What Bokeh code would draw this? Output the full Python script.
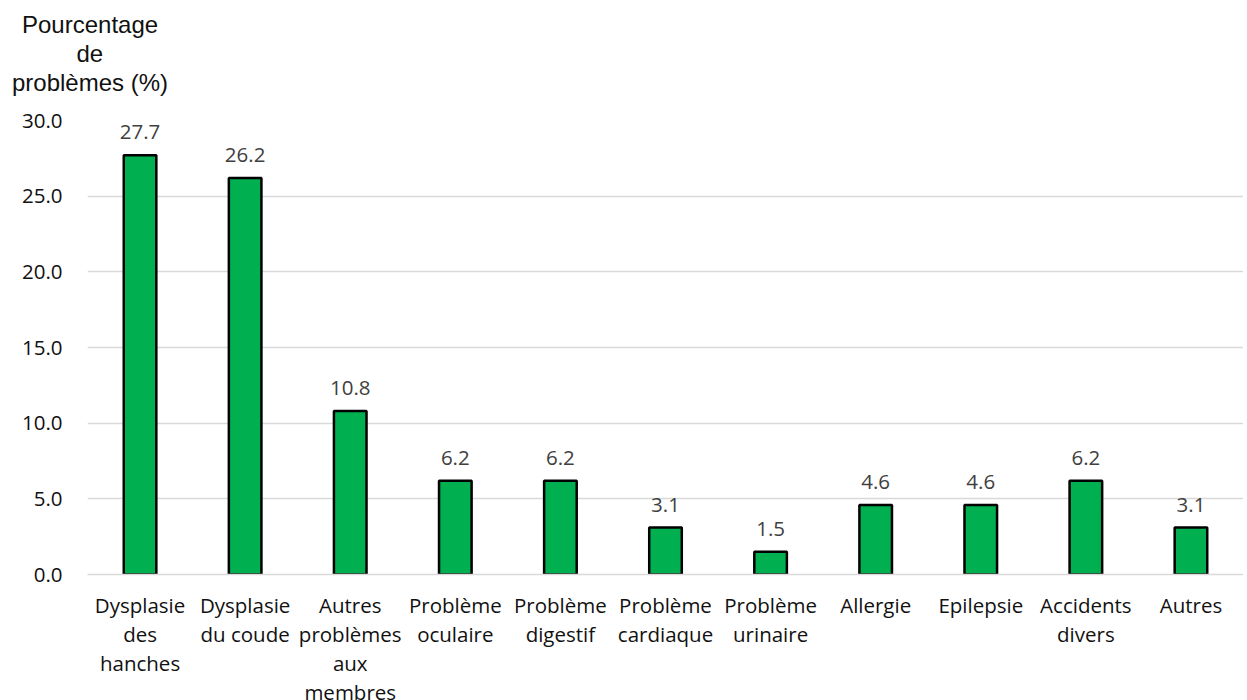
from bokeh.plotting import figure
from bokeh.models import FactorRange, Range1d, ColumnDataSource, Title, LabelSet, FixedTicker, PrintfTickFormatter
from bokeh.core.properties import value
from bokeh.embed import file_html
from bokeh.resources import INLINE

categories = ["Dysplasie\ndes\nhanches", "Dysplasie\ndu coude", "Autres\nproblèmes\naux\nmembres",
              "Problème\noculaire", "Problème\ndigestif", "Problème\ncardiaque", "Problème\nurinaire",
              "Allergie", "Epilepsie", "Accidents\ndivers", "Autres"]
values = [27.7, 26.2, 10.8, 6.2, 6.2, 3.1, 1.5, 4.6, 4.6, 6.2, 3.1]
y_ticks = [0, 5, 10, 15, 20, 25, 30]
y_title_lines = ["Pourcentage", "de", "problèmes (%)"]

src = ColumnDataSource(dict(cat=categories, val=values, lab=[f"{v:.1f}" for v in values]))

p = figure(frame_width=1156, frame_height=454, x_range=FactorRange(*categories, range_padding=0),
           y_range=Range1d(0, 30), output_backend="svg", toolbar_location=None,
           min_border_left=87, min_border_right=0, min_border_top=120, min_border_bottom=60)

p.vbar(x="cat", top="val", width=0.31, source=src, fill_color="#00B050",
       line_color="black", line_width=2.5)

p.add_layout(LabelSet(x="cat", y="val", text="lab", source=src, text_align="center",
                      text_baseline="bottom", y_offset=16, text_color="#404040",
                      text_font=value("Open Sans"), text_font_size="20.5px"))

p.outline_line_color = None
p.xgrid.grid_line_color = None
p.ygrid.grid_line_color = "#d9d9d9"
p.ygrid.grid_line_width = 1.3

p.yaxis.ticker = FixedTicker(ticks=y_ticks)
p.yaxis.formatter = PrintfTickFormatter(format="%.1f")
p.yaxis.axis_line_color = None
p.yaxis.major_tick_line_color = None
p.yaxis.minor_tick_line_color = None
p.yaxis.major_label_standoff = 19
p.yaxis.major_label_text_font = "Open Sans"
p.yaxis.major_label_text_font_size = "20.5px"
p.yaxis.major_label_text_color = "#111111"

p.xaxis.axis_line_color = "#d9d9d9"
p.xaxis.axis_line_width = 1.3
p.xaxis.major_tick_line_color = None
p.xaxis.minor_tick_line_color = None
p.xaxis.major_label_standoff = 10
p.xaxis.major_label_text_font = "Open Sans"
p.xaxis.major_label_text_font_size = "20.5px"
p.xaxis.major_label_text_color = "#111111"
p.xaxis.major_label_text_line_height = 1.04
p.xaxis.major_label_orientation = "horizontal"

# small spacer panel between the frame and the y-axis title
p.add_layout(Title(text=" ", text_font_size="1px", standoff=22), "above")

# y-axis title: three centred lines stacked above the frame (added nearest first)
offsets = {"problèmes (%)": -75.5, "de": -11, "Pourcentage": -65.5}
for line in reversed(y_title_lines):
    p.add_layout(Title(text=line, align="left", offset=offsets[line], standoff=0,
                       text_font="Liberation Sans", text_font_size="24px",
                       text_font_style="normal", text_color="#111111"), "above")

open("out.html", "w").write(file_html(p, INLINE))
